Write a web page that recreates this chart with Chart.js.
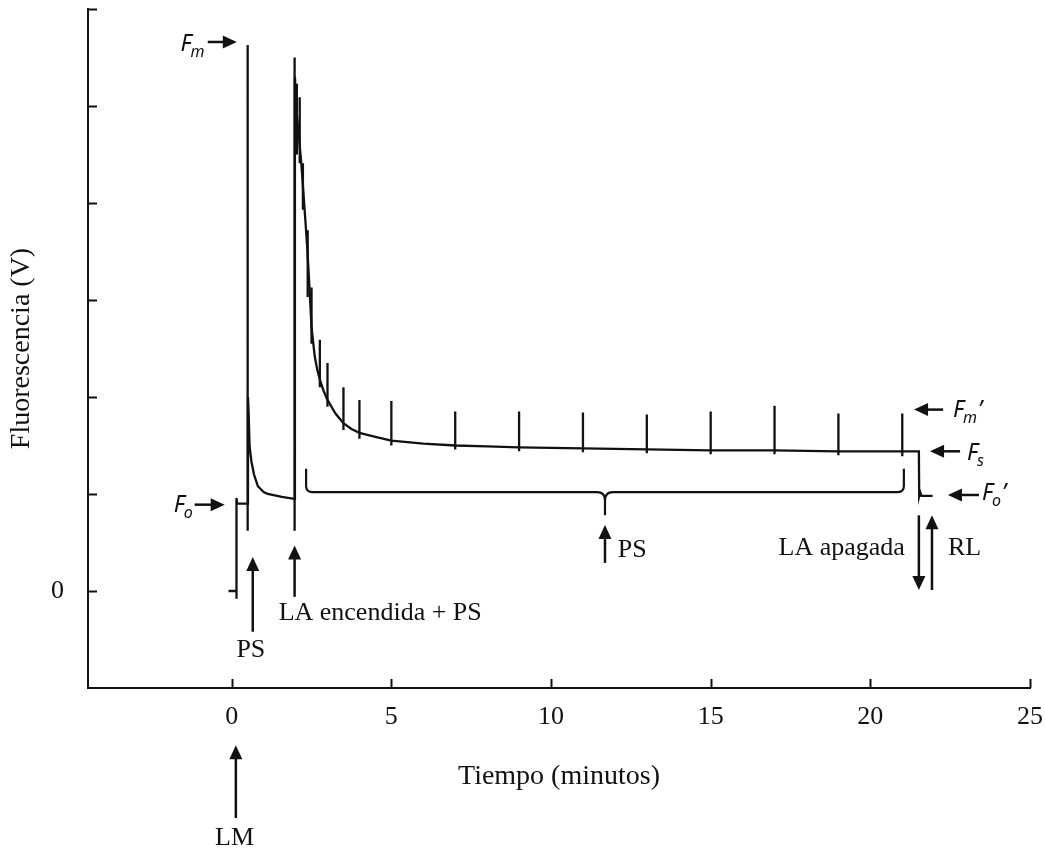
<!DOCTYPE html>
<html>
<head>
<meta charset="utf-8">
<script src="https://cdn.jsdelivr.net/npm/chart.js@4.4.1/dist/chart.umd.min.js"></script>
<style>
html,body{margin:0;padding:0;background:#ffffff;}
canvas{display:block;}
</style>
</head>
<body>
<canvas id="c" width="1046" height="849"></canvas>
<script>
// ---------------- DATA ----------------
// Continuous fluorescence trace: time (min) and signal (V)
const traceTime  = [-0.10, 0.15, 0.15, 0.15, 0.17, 0.50, 0.51, 0.53, 0.56, 0.62, 0.70, 0.82, 1.00, 1.13, 1.57, 1.96,
                    1.98, 2.03, 2.10, 2.18, 2.28, 2.37, 2.44, 2.50, 2.60, 2.68, 2.76, 2.88, 3.00, 3.25, 3.50, 3.75,
                    4.00, 4.50, 5.00, 6.00, 7.00, 8.00, 9.00, 10.0, 11.0, 12.0, 13.0, 14.0, 15.0, 16.0, 17.0, 18.0,
                    19.0, 20.0, 21.0, 21.52, 21.53, 21.56, 21.60, 21.95];
const traceFluor = [0.00, 0.00, -0.08, 0.96, 0.90, 0.90, 2.00, 1.84, 1.49, 1.33, 1.20, 1.08, 1.02, 1.00, 0.97, 0.95,
                    5.30, 4.95, 4.70, 4.41, 3.95, 3.52, 3.10, 2.72, 2.42, 2.28, 2.18, 2.06, 1.97, 1.83, 1.73, 1.67,
                    1.63, 1.59, 1.55, 1.52, 1.50, 1.49, 1.48, 1.475, 1.47, 1.465, 1.46, 1.455, 1.45, 1.45, 1.45, 1.445,
                    1.44, 1.44, 1.44, 1.44, 0.98, 1.02, 0.98, 0.98];

// Saturating pulses (PS): time, lower end and peak of each vertical pulse line
const pulseTime = [0.50, 1.97, 2.04, 2.13, 2.23, 2.38, 2.50, 2.76, 3.00, 3.50, 4.00, 5.00, 7.00, 9.00, 11.0, 13.0, 15.0, 17.0, 19.0, 21.0];
const pulseLow  = [0.62, 0.62, 4.50, 4.41, 3.93, 3.03, 2.55, 2.10, 1.90, 1.66, 1.57, 1.50, 1.46, 1.44, 1.43, 1.42, 1.41, 1.41, 1.40, 1.39];
const pulsePeak = [5.63, 5.50, 5.23, 5.09, 4.41, 3.72, 3.13, 2.59, 2.35, 2.10, 1.97, 1.96, 1.85, 1.85, 1.84, 1.82, 1.85, 1.91, 1.83, 1.83];

// Axes
const xTickValues = [0, 5, 10, 15, 20, 25];
const xTickLabels = ['0', '5', '10', '15', '20', '25'];
const yTickValues = [0, 1, 2, 3, 4, 5, 6];
const yTickLabels = ['0', '', '', '', '', '', ''];
const xAxisTitle = 'Tiempo (minutos)';
const yAxisTitle = 'Fluorescencia (V)';

// ---------------- ANNOTATIONS (positions in data units) ----------------
const arrowMarks = [
  {from: [-0.75, 5.66], to: [0.16, 5.66]},    // Fm
  {from: [-1.16, 0.89], to: [-0.22, 0.89]},   // Fo
  {from: [22.28, 1.87], to: [21.37, 1.87]},   // Fm'
  {from: [22.81, 1.44], to: [21.87, 1.44]},   // Fs
  {from: [23.40, 0.99], to: [22.43, 0.99]},   // Fo'
  {from: [21.52, 0.78], to: [21.52, 0.01]},   // LA apagada
  {from: [21.93, 0.01], to: [21.93, 0.78]},   // RL
  {from: [11.69, 0.29], to: [11.69, 0.68]},   // PS (bracket)
  {from: [0.66, -0.42], to: [0.66, 0.35]},    // PS (first)
  {from: [1.97, -0.06], to: [1.97, 0.47]},    // LA encendida + PS
  {from: [0.13, -2.34], to: [0.13, -1.59]}    // LM
];
const textMarks = [
  {text: 'PS', x: 0.60, y: -0.68, align: 'center'},
  {text: 'LA encendida + PS', x: 1.47, y: -0.30, align: 'left'},
  {text: 'PS', x: 12.09, y: 0.35, align: 'left'},
  {text: 'LA apagada', x: 21.08, y: 0.37, align: 'right'},
  {text: 'RL', x: 22.43, y: 0.37, align: 'left'},
  {text: 'LM', x: 0.09, y: -2.62, align: 'center'}
];
const fMarks = [
  {sub: 'm', prime: false, x: -0.85, y: 5.57, align: 'right'},
  {sub: 'o', prime: false, x: -1.22, y: 0.81, align: 'right'},
  {sub: 'm', prime: true,  x: 22.59, y: 1.79, align: 'left'},
  {sub: 's', prime: false, x: 23.03, y: 1.35, align: 'left'},
  {sub: 'o', prime: true,  x: 23.50, y: 0.94, align: 'left'}
];
const bracketMark = {x1: 2.33, x2: 21.05, mid: 11.69, yTop: 1.26, yLine: 1.02, yTip: 0.78};

// ---------------- BUILD ----------------
const SERIF = '"Liberation Serif", "Times New Roman", serif';
const SANS = '"Noto Sans", "Open Sans", sans-serif';
const INK = '#111111';

const tracePoints = traceTime.map((t, i) => ({x: t, y: traceFluor[i]}));
const pulsePoints = [];
pulseTime.forEach((t, i) => {
  pulsePoints.push({x: t, y: pulseLow[i]});
  pulsePoints.push({x: t, y: pulsePeak[i]});
  pulsePoints.push({x: t, y: null});
});

function drawArrow(ctx, x1, y1, x2, y2) {
  const dx = x2 - x1, dy = y2 - y1;
  const len = Math.hypot(dx, dy);
  const ux = dx / len, uy = dy / len;
  const head = 14, half = 6.5;
  const bx = x2 - ux * head, by = y2 - uy * head;
  ctx.beginPath();
  ctx.moveTo(x1, y1);
  ctx.lineTo(bx + ux, by + uy);
  ctx.stroke();
  ctx.beginPath();
  ctx.moveTo(x2, y2);
  ctx.lineTo(bx - uy * half, by + ux * half);
  ctx.lineTo(bx + uy * half, by - ux * half);
  ctx.closePath();
  ctx.fill();
}

const annotationPlugin = {
  id: 'annotations',
  afterDraw(chart) {
    const ctx = chart.ctx;
    const xs = chart.scales.x, ys = chart.scales.y;
    const px = v => xs.getPixelForValue(v);
    const py = v => ys.getPixelForValue(v);
    const area = chart.chartArea;
    ctx.save();
    ctx.strokeStyle = INK;
    ctx.fillStyle = INK;
    ctx.lineCap = 'butt';

    // inward tick marks
    ctx.lineWidth = 2;
    xTickValues.forEach(v => {
      const x = Math.round(px(v)) + 0.5;
      ctx.beginPath(); ctx.moveTo(x, area.bottom); ctx.lineTo(x, area.bottom - 9); ctx.stroke();
    });
    yTickValues.forEach(v => {
      const y = Math.round(py(v)) + 0.5;
      ctx.beginPath(); ctx.moveTo(area.left, y); ctx.lineTo(area.left + 9, y); ctx.stroke();
    });

    // bracket
    const b = bracketMark;
    const r = 6;
    ctx.lineWidth = 2.2;
    ctx.beginPath();
    ctx.moveTo(px(b.x1), py(b.yTop));
    ctx.lineTo(px(b.x1), py(b.yLine) - r);
    ctx.quadraticCurveTo(px(b.x1), py(b.yLine), px(b.x1) + r, py(b.yLine));
    ctx.lineTo(px(b.mid) - 8, py(b.yLine));
    ctx.quadraticCurveTo(px(b.mid), py(b.yLine), px(b.mid), py(b.yLine) + 8);
    ctx.lineTo(px(b.mid), py(b.yTip));
    ctx.stroke();
    ctx.beginPath();
    ctx.moveTo(px(b.x2), py(b.yTop));
    ctx.lineTo(px(b.x2), py(b.yLine) - r);
    ctx.quadraticCurveTo(px(b.x2), py(b.yLine), px(b.x2) - r, py(b.yLine));
    ctx.lineTo(px(b.mid) + 8, py(b.yLine));
    ctx.quadraticCurveTo(px(b.mid), py(b.yLine), px(b.mid), py(b.yLine) + 8);
    ctx.stroke();

    // arrows
    ctx.lineWidth = 2.5;
    arrowMarks.forEach(a => drawArrow(ctx, px(a.from[0]), py(a.from[1]), px(a.to[0]), py(a.to[1])));

    // plain texts
    ctx.font = '26px ' + SERIF;
    ctx.textBaseline = 'alphabetic';
    textMarks.forEach(t => {
      ctx.textAlign = t.align;
      ctx.fillText(t.text, px(t.x), py(t.y));
    });

    // F labels with subscripts
    ctx.textAlign = 'left';
    fMarks.forEach(f => {
      const bigFont = 'italic 23px ' + SANS;
      const subFont = 'italic 16px ' + SANS;
      ctx.font = bigFont; const wF = ctx.measureText('F').width;
      ctx.font = subFont; const wS = ctx.measureText(f.sub).width;
      ctx.font = bigFont; const wP = f.prime ? ctx.measureText('\u2019').width + 1 : 0;
      const total = wF - 1 + wS + wP;
      let x0 = f.align === 'right' ? px(f.x) - total : px(f.x);
      const y0 = py(f.y);
      ctx.font = bigFont; ctx.fillText('F', x0, y0);
      ctx.font = subFont; ctx.fillText(f.sub, x0 + wF - 1, y0 + 6);
      if (f.prime) { ctx.font = bigFont; ctx.fillText('\u2019', x0 + wF - 1 + wS + 1, y0); }
    });
    ctx.restore();
  }
};

new Chart(document.getElementById('c'), {
  type: 'line',
  data: {
    datasets: [
      {label: 'trace', data: tracePoints, borderColor: INK, borderWidth: 2.3, pointRadius: 0, tension: 0, fill: false},
      {label: 'pulses', data: pulsePoints, borderColor: INK, borderWidth: 2.3, pointRadius: 0, tension: 0, fill: false, spanGaps: false}
    ]
  },
  options: {
    responsive: false,
    animation: false,
    devicePixelRatio: 1,
    layout: {padding: {top: 9, right: 16, bottom: 0, left: 0}},
    plugins: {legend: {display: false}, tooltip: {enabled: false}},
    scales: {
      x: {
        type: 'linear', min: -4.5, max: 25,
        border: {display: true, color: INK, width: 2},
        grid: {display: false, drawTicks: false},
        afterBuildTicks: s => { s.ticks = xTickValues.map(v => ({value: v})); },
        ticks: {callback: (v, i) => xTickLabels[i], font: {family: SERIF, size: 26}, color: INK, padding: 14, maxRotation: 0, autoSkip: false},
        title: {display: true, text: xAxisTitle, font: {family: SERIF, size: 28}, color: INK, padding: {top: 0, bottom: 56}},
        afterFit: s => { s.height = 161; s.paddingLeft = 0; s.paddingRight = 0; }
      },
      y: {
        type: 'linear', min: -1, max: 6,
        border: {display: true, color: INK, width: 2},
        grid: {display: false, drawTicks: false},
        afterBuildTicks: s => { s.ticks = yTickValues.map(v => ({value: v})); },
        ticks: {callback: (v, i) => yTickLabels[i], font: {family: SERIF, size: 26}, color: INK, padding: 24, autoSkip: false},
        title: {display: true, text: yAxisTitle, font: {family: SERIF, size: 28}, color: INK, padding: {top: 5, bottom: 0}},
        afterFit: s => { s.width = 88; s.paddingTop = 0; s.paddingBottom = 0; }
      }
    }
  },
  plugins: [annotationPlugin]
});
</script>
</body>
</html>
